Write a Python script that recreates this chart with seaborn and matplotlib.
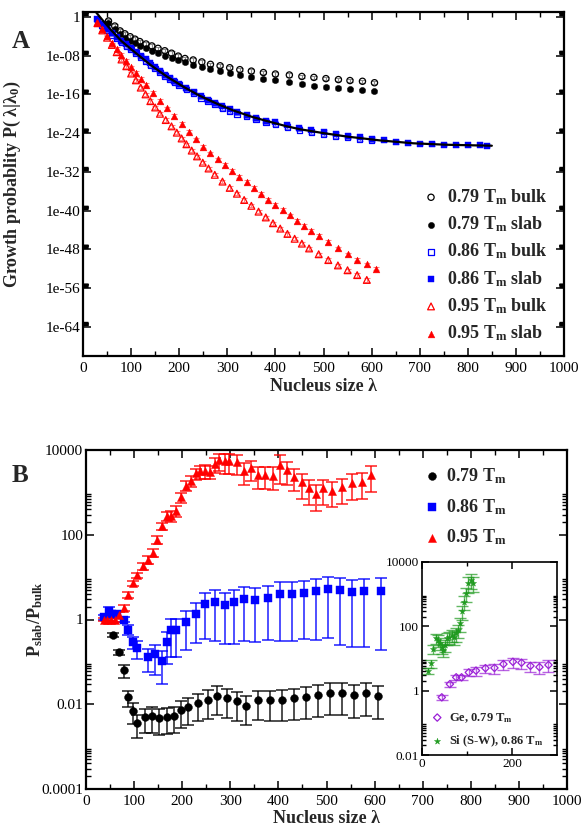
import numpy as np
import pandas as pd
import matplotlib
matplotlib.use("Agg")
import matplotlib.pyplot as plt
import seaborn as sns
from matplotlib.ticker import FixedLocator, NullFormatter, FuncFormatter, MultipleLocator

### data
### panel A: growth probability, values kept as log10 exponents
a_x_079 = [53, 66, 77, 87, 98, 108, 118, 131, 143, 156, 170, 184, 198, 212, 229, 247,
           265, 285, 305, 326, 350, 375, 400, 429, 455, 480, 505, 531, 555, 581, 606]
a_bulk_079 = [-0.86, -1.9, -2.9, -3.5, -4.1, -4.6, -5.1, -5.6, -6.0, -6.5, -7.0, -7.5, -8.1,
              -8.6, -8.9, -9.3, -9.8, -10.1, -10.5, -10.9, -11.2, -11.5, -11.8, -12.0, -12.3,
              -12.5, -12.75, -12.95, -13.15, -13.3, -13.6]
a_slab_079 = [-1.3, -2.6, -3.6, -4.3, -4.9, -5.5, -6.0, -6.5, -7.0, -7.5, -8.0, -8.5, -9.0,
              -9.4, -9.9, -10.3, -10.8, -11.2, -11.6, -12.0, -12.4, -12.8, -13.1, -13.5, -13.9,
              -14.2, -14.5, -14.7, -14.95, -15.15, -15.4]

a_x_086 = [30, 40, 50, 60, 70, 80, 90, 100, 110, 120, 130, 140, 150, 160, 170, 180, 190, 200,
           215, 230, 245, 260, 275, 290, 305, 320, 340, 360, 380, 400, 425, 450, 475, 500,
           525, 550, 575, 600]
a_bulk_086 = [-0.8, -1.8, -2.8, -3.7, -4.5, -5.3, -6.0, -6.7, -7.5, -8.3, -9.1, -9.9, -10.7,
              -11.5, -12.2, -12.9, -13.5, -14.1, -15.0, -15.8, -16.7, -17.4, -18.1, -18.8,
              -19.4, -20.0, -20.6, -21.2, -21.8, -22.2, -22.7, -23.3, -23.8, -24.2, -24.6,
              -24.9, -25.2, -25.5]
a_x_086s = [30, 40, 50, 60, 70, 80, 90, 100, 110, 120, 130, 140, 150, 160, 170, 180, 190, 200,
            215, 230, 245, 260, 275, 290, 305, 320, 340, 360, 380, 400, 425, 450, 475, 500,
            525, 550, 575, 600, 625, 650, 675, 700, 725, 750, 775, 800, 825, 840]
a_slab_086 = [-0.5, -1.5, -2.5, -3.4, -4.2, -5.0, -5.7, -6.4, -7.2, -8.0, -8.8, -9.6, -10.4,
              -11.2, -11.9, -12.55, -13.2, -13.8, -14.7, -15.5, -16.4, -17.1, -17.8, -18.5,
              -19.1, -19.7, -20.3, -20.9, -21.4, -21.8, -22.3, -22.9, -23.4, -23.8, -24.2,
              -24.6, -24.9, -25.2, -25.5, -25.8, -26.0, -26.15, -26.25, -26.35, -26.45, -26.5,
              -26.55, -26.6]
fit_x_086 = [25, 40, 60, 80, 104, 140, 174, 210, 243, 280, 312, 350, 382, 420, 451, 500,
             548, 617, 687, 756, 850]
fit_086 = [1.2, -0.6, -2.9, -5.0, -7.0, -9.9, -12.3, -14.5, -16.3, -18.0, -19.3, -20.6, -21.5,
           -22.5, -23.2, -24.0, -24.7, -25.5, -26.1, -26.4, -26.6]

a_x_095 = [30, 40, 50, 60, 70, 80, 90, 100, 110, 120, 130, 145, 160, 175, 190, 205, 220, 235,
           250, 265, 280, 295, 310, 325, 340, 355, 370, 385, 400, 415, 430, 445, 460, 475,
           490, 510, 530, 550, 570, 590, 610]
a_slab_095 = [-1.2, -2.6, -4.0, -5.3, -6.6, -7.9, -9.1, -10.4, -11.6, -12.8, -14.0, -15.7,
              -17.4, -18.9, -20.5, -22.1, -23.7, -25.3, -26.8, -28.2, -29.4, -30.6, -31.8,
              -33.0, -34.1, -35.3, -36.5, -37.7, -38.8, -39.9, -41.0, -42.1, -43.2, -44.2,
              -45.2, -46.5, -47.8, -49.0, -50.1, -51.1, -52.0]
a_x_095b = [30, 40, 50, 60, 70, 80, 90, 100, 110, 120, 130, 140, 150, 160, 172, 184, 195, 205,
            215, 226, 237, 249, 261, 274, 290, 305, 320, 335, 350, 365, 380, 395, 410, 425,
            440, 455, 470, 490, 510, 530, 550, 570, 590]
a_bulk_095 = [-1.3, -2.8, -4.3, -5.8, -7.3, -8.8, -10.2, -11.7, -13.1, -14.6, -16.0, -17.4,
              -18.7, -20.0, -21.3, -22.6, -23.9, -25.1, -26.3, -27.6, -28.8, -30.1, -31.3,
              -32.6, -34.0, -35.3, -36.5, -37.8, -39.0, -40.2, -41.4, -42.6, -43.7, -44.8,
              -45.8, -46.8, -47.8, -49.0, -50.2, -51.3, -52.3, -53.3, -54.3]

### panel B: ratio slab/bulk with relative errors
b_x_079 = [57, 68, 78, 87, 97, 107, 123, 137, 152, 168, 183, 198, 213, 233, 253, 273, 293,
           313, 333, 358, 383, 408, 433, 458, 483, 508, 532, 558, 583, 608]
b_r_079 = [0.44, 0.17, 0.063, 0.0148, 0.0071, 0.0036, 0.005, 0.0053, 0.0048, 0.005, 0.0053,
           0.0074, 0.0085, 0.0107, 0.0128, 0.016, 0.014, 0.0117, 0.0093, 0.0126, 0.0124,
           0.0126, 0.0138, 0.0147, 0.0167, 0.0186, 0.0186, 0.0167, 0.0186, 0.016]
b_e_079 = [0.12, 0.15, 0.34, 0.42, 0.51, 0.55, 0.57, 0.6, 0.6, 0.6, 0.6, 0.62, 0.62, 0.63,
           0.65, 0.65, 0.66, 0.66, 0.66, 0.67, 0.68, 0.68, 0.69, 0.7, 0.7, 0.7, 0.7, 0.71,
           0.72, 0.72]

b_x_086 = [37, 47, 55, 64, 78, 87, 97, 107, 128, 143, 158, 168, 177, 188, 208, 228, 248, 268,
           288, 308, 329, 352, 378, 403, 428, 453, 478, 503, 529, 553, 579, 614]
b_r_086 = [1.13, 1.55, 1.35, 1.35, 1.0, 0.58, 0.29, 0.21, 0.13, 0.15, 0.107, 0.30, 0.58, 0.58,
           0.89, 1.38, 2.3, 2.6, 2.2, 2.6, 3.1, 2.9, 3.2, 3.9, 3.9, 4.3, 4.8, 5.3, 5.0, 4.4,
           4.6, 4.8]
b_e_086 = [0.15, 0.25, 0.2, 0.2, 0.15, 0.25, 0.31, 0.45, 0.55, 0.68, 0.72, 0.7, 0.78, 0.78,
           0.78, 0.8, 0.85, 0.88, 0.88, 0.9, 0.9, 0.9, 0.9, 0.92, 0.92, 0.92, 0.93, 0.93,
           0.95, 0.95, 0.95, 0.96]

b_x_095 = [37, 44, 53, 60, 68, 78, 88, 98, 107, 118, 128, 139, 148, 158, 168, 177, 188, 198,
           208, 218, 228, 238, 248, 258, 268, 277, 288, 297, 313, 329, 344, 358, 373, 388,
           403, 418, 433, 449, 463, 478, 493, 511, 532, 553, 574, 593]
b_r_095 = [1.0, 1.0, 1.0, 1.0, 1.3, 1.9, 3.8, 7.2, 11, 18, 26, 38, 76, 158, 280, 280, 370, 760,
           1450, 1900, 2800, 3150, 3200, 3100, 4700, 5700, 5500, 5400, 5100, 3250, 3700, 2600,
           2600, 2500, 4500, 3400, 2350, 1740, 1250, 920, 1250, 1100, 1320, 1670, 1780, 2600]
b_e_095 = [0.1, 0.1, 0.1, 0.12, 0.15, 0.15, 0.15, 0.15, 0.15, 0.17, 0.2, 0.2, 0.2, 0.2, 0.25,
           0.3, 0.3, 0.25, 0.25, 0.3, 0.3, 0.35, 0.35, 0.35, 0.4, 0.45, 0.5, 0.5, 0.5, 0.55,
           0.5, 0.55, 0.55, 0.55, 0.65, 0.55, 0.55, 0.6, 0.6, 0.6, 0.6, 0.6, 0.6, 0.6, 0.6, 0.6]

### inset: Ge and Si
ge_x = [44, 62, 76, 88, 104, 120, 141, 161, 181, 202, 221, 241, 261, 281]
ge_r = [0.62, 1.6, 2.6, 2.6, 3.7, 4.2, 5.0, 5.1, 6.7, 7.9, 7.4, 5.9, 5.4, 6.3]
ge_e = [0.15, 0.2, 0.2, 0.2, 0.25, 0.3, 0.3, 0.35, 0.35, 0.35, 0.35, 0.35, 0.4, 0.4]
si_x = [14, 20, 25, 31, 35, 40, 44, 47, 51, 55, 61, 66, 71, 76, 81, 84, 88, 93, 98, 103, 108, 114]
si_r = [4.2, 7.0, 20, 43, 38, 30, 23, 18.5, 26, 43, 48, 54, 48, 61, 78, 125, 290, 590, 1070,
        2200, 2800, 2300]
si_e = [0.2, 0.25, 0.3, 0.35, 0.4, 0.4, 0.4, 0.4, 0.4, 0.4, 0.4, 0.4, 0.45, 0.45, 0.45, 0.45,
        0.45, 0.45, 0.45, 0.5, 0.5, 0.5]

a_ticks_exp = [0, -8, -16, -24, -32, -40, -48, -56, -64]

### style
sns.set_style("ticks")
plt.rcParams['font.family'] = ['Liberation Serif', 'DejaVu Serif']
plt.rcParams['mathtext.fontset'] = 'custom'
plt.rcParams['mathtext.rm'] = 'Liberation Serif'
plt.rcParams['mathtext.it'] = 'Liberation Serif:italic'
plt.rcParams['mathtext.bf'] = 'Liberation Serif:bold'

BLUE = "#0000ff"
RED = "#ff0000"
GREEN = "#1f9a1f"
VIOLET = "#9a1fd6"


def style_axis(ax, spine_w=1.6):
    for sp in ax.spines.values():
        sp.set_linewidth(spine_w)
        sp.set_color("black")
    ax.tick_params(which="both", direction="in", top=True, right=True, colors="black")
    ax.tick_params(which="major", length=6, width=1.1)
    ax.tick_params(which="minor", length=3.5, width=1.0)


def points(ax, x, y, color, marker, filled, s, label=None, lw=0.9):
    if filled:
        sns.scatterplot(x=x, y=y, ax=ax, color=color, marker=marker, s=s,
                        edgecolor=color, linewidth=0.3, label=label, zorder=3)
    else:
        sns.scatterplot(x=x, y=y, ax=ax, color=color, marker=marker, s=s,
                        facecolor="none", edgecolor=color, linewidth=lw, label=label, zorder=3)


def a_series(ax, x, e, color, ecolor, marker, filled, label, s=20):
    y = 10.0 ** np.array(e)
    lo = y * (1 - 10 ** -0.35)
    hi = y * (10 ** 0.35 - 1)
    ax.errorbar(x, y, yerr=[lo, hi], fmt="none", ecolor=ecolor, elinewidth=0.8,
                capsize=2.5, capthick=0.8, zorder=2)
    points(ax, x, y, color, marker, filled, s, label)


def b_series(ax, x, r, rel, color, marker, s, label, capsize=4.5, lw=1.3):
    r = np.array(r)
    err = r * np.array(rel)
    ax.errorbar(x, r, yerr=err, fmt="none", ecolor=color, alpha=0.75, elinewidth=lw,
                capsize=capsize, capthick=lw, zorder=2)
    points(ax, x, r, color, marker, True, s, label)


fig = plt.figure(figsize=(5.84, 8.27), dpi=100)

### panel A
axA = fig.add_axes([83 / 584, 1 - 356 / 827, 481 / 584, 344 / 827])
axA.set_yscale("log")
a_series(axA, a_x_079, a_bulk_079, "black", "#8a8a8a", "o", False, r"0.79 T$_\mathbf{m}$ bulk")
a_series(axA, a_x_079, a_slab_079, "black", "#8a8a8a", "o", True, r"0.79 T$_\mathbf{m}$ slab")
a_series(axA, a_x_086, a_bulk_086, BLUE, "#7a7aff", "s", False, r"0.86 T$_\mathbf{m}$ bulk", 16)
a_series(axA, a_x_086s, a_slab_086, BLUE, "#7a7aff", "s", True, r"0.86 T$_\mathbf{m}$ slab", 16)
a_series(axA, a_x_095b, a_bulk_095, RED, "#ff8080", "^", False, r"0.95 T$_\mathbf{m}$ bulk", 24)
a_series(axA, a_x_095, a_slab_095, RED, "#ff8080", "^", True, r"0.95 T$_\mathbf{m}$ slab", 24)
sns.lineplot(x=fit_x_086, y=10.0 ** np.array(fit_086), ax=axA, color="black", linewidth=1.6,
             zorder=4, legend=False)

axA.set_xlim(0, 1000)
axA.set_ylim(1e-70, 10)
axA.xaxis.set_major_locator(MultipleLocator(100))
axA.xaxis.set_minor_locator(MultipleLocator(50))
a_major = [10.0 ** e for e in a_ticks_exp]
a_minor = [k * 10.0 ** e for e in a_ticks_exp for k in range(2, 10)]
axA.yaxis.set_major_locator(FixedLocator(a_major))
axA.yaxis.set_minor_locator(FixedLocator(a_minor))
axA.yaxis.set_major_formatter(FuncFormatter(
    lambda v, p: "1" if abs(np.log10(v)) < 0.5 else "1e-%02d" % round(-np.log10(v))))
axA.yaxis.set_minor_formatter(NullFormatter())
style_axis(axA)
axA.tick_params(axis="x", labelsize=11, pad=4)
axA.tick_params(axis="y", labelsize=11, pad=2)
axA.set_xlabel("Nucleus size λ", fontsize=13, fontweight="bold")
axA.xaxis.set_label_coords(0.5, -0.064)
axA.set_ylabel(r"Growth probablity P( λ|λ$_\mathbf{0}$)", fontsize=13, fontweight="bold")
axA.yaxis.set_label_coords(-0.125, 0.5)
legA = axA.legend(loc="upper left", bbox_to_anchor=(422 / 584, 1 - 187 / 827),
                  bbox_transform=fig.transFigure, frameon=False, fontsize=13,
                  handlelength=1.0, handletextpad=0.4, labelspacing=0.42,
                  borderpad=0, borderaxespad=0, markerscale=1.0)
for t in legA.get_texts():
    t.set_fontweight("bold")

### panel B
axB = fig.add_axes([86 / 584, 1 - 789 / 827, 481 / 584, 339 / 827])
axB.set_yscale("log")
b_series(axB, b_x_079, b_r_079, b_e_079, "black", "o", 32, r"0.79 T$_\mathbf{m}$")
b_series(axB, b_x_086, b_r_086, b_e_086, BLUE, "s", 26, r"0.86 T$_\mathbf{m}$")
b_series(axB, b_x_095, b_r_095, b_e_095, RED, "^", 34, r"0.95 T$_\mathbf{m}$")
axB.set_xlim(0, 1000)
axB.set_ylim(1e-4, 1e4)
axB.xaxis.set_major_locator(MultipleLocator(100))
axB.xaxis.set_minor_locator(MultipleLocator(50))
b_major = [1e-4, 1e-2, 1.0, 1e2, 1e4]
axB.yaxis.set_major_locator(FixedLocator(b_major))
axB.yaxis.set_minor_locator(FixedLocator([k * m for m in b_major[:-1] for k in range(2, 10)]))
axB.yaxis.set_major_formatter(FuncFormatter(lambda v, p: "%g" % v))
axB.yaxis.set_minor_formatter(NullFormatter())
style_axis(axB)
axB.tick_params(axis="x", labelsize=11, pad=4)
axB.tick_params(axis="y", labelsize=11, pad=2)
axB.set_xlabel("Nucleus size λ", fontsize=13, fontweight="bold")
axB.xaxis.set_label_coords(0.5, -0.062)
axB.set_ylabel(r"P$_\mathbf{slab}$/P$_\mathbf{bulk}$", fontsize=13, fontweight="bold")
axB.yaxis.set_label_coords(-0.085, 0.5)
legB = axB.legend(loc="upper left", bbox_to_anchor=(423 / 584, 1 - 466 / 827),
                  bbox_transform=fig.transFigure, frameon=False, fontsize=13,
                  handlelength=1.0, handletextpad=0.25, labelspacing=0.62,
                  borderpad=0, borderaxespad=0)
for t in legB.get_texts():
    t.set_fontweight("bold")

### inset
axI = fig.add_axes([422 / 584, 1 - 755 / 827, 135 / 584, 193 / 827])
axI.set_yscale("log")
ge = np.array(ge_r)
axI.errorbar(ge_x, ge, yerr=ge * np.array(ge_e), fmt="none", ecolor=VIOLET, alpha=0.7,
             elinewidth=1, capsize=4, capthick=1, zorder=2)
points(axI, ge_x, ge, VIOLET, "D", False, 14, r"Ge, 0.79 T$_\mathbf{m}$", lw=0.9)
si = np.array(si_r)
axI.errorbar(si_x, si, yerr=si * np.array(si_e), fmt="none", ecolor=GREEN, alpha=0.7,
             elinewidth=1, capsize=4, capthick=1, zorder=2)
points(axI, si_x, si, GREEN, "*", True, 22, r"Si (S-W), 0.86 T$_\mathbf{m}$")
axI.set_xlim(0, 300)
axI.set_ylim(0.01, 1e4)
axI.xaxis.set_major_locator(FixedLocator([0, 200]))
axI.xaxis.set_minor_locator(FixedLocator([100]))
i_major = [1e-2, 1.0, 1e2, 1e4]
axI.yaxis.set_major_locator(FixedLocator(i_major))
axI.yaxis.set_minor_locator(FixedLocator([k * m for m in i_major[:-1] for k in range(2, 10)]))
axI.yaxis.set_major_formatter(FuncFormatter(lambda v, p: "%g" % v))
axI.yaxis.set_minor_formatter(NullFormatter())
style_axis(axI, spine_w=1.2)
axI.tick_params(which="major", length=5)
axI.tick_params(which="minor", length=3)
axI.tick_params(labelsize=9.5, pad=2)
axI.set_xlabel("")
axI.set_ylabel("")
legI = axI.legend(loc="upper left", bbox_to_anchor=(431 / 584, 1 - 711 / 827),
                  bbox_transform=fig.transFigure, frameon=False, fontsize=9,
                  handlelength=1.0, handletextpad=0.45, labelspacing=0.7,
                  borderpad=0, borderaxespad=0)
for t in legI.get_texts():
    t.set_fontweight("bold")

fig.text(12 / 584, 1 - 48 / 827, "A", fontsize=18, fontweight="bold", ha="left", va="baseline")
fig.text(12 / 584, 1 - 482 / 827, "B", fontsize=18, fontweight="bold", ha="left", va="baseline")

fig.savefig("out.png", dpi=100)
plt.close(fig)
